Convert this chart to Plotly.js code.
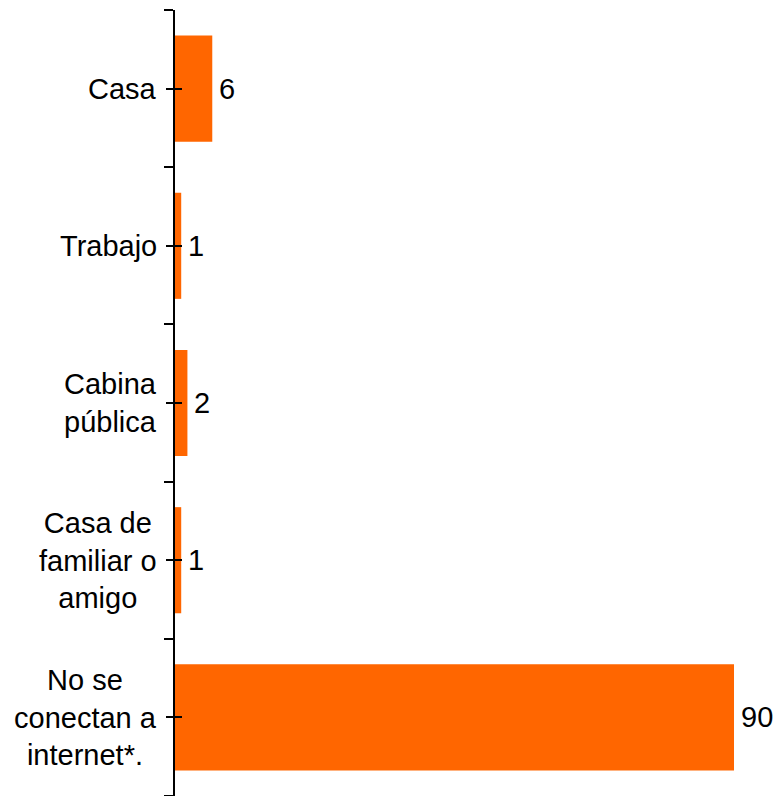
<!DOCTYPE html>
<html>
<head>
<meta charset="utf-8">
<script src="https://cdn.plot.ly/plotly-3.0.1.min.js"></script>
<style>html,body{margin:0;padding:0;background:#fff;}#chart{width:775px;height:796px;}</style>
</head>
<body>
<div id="chart"></div>
<script>
const categories = ["Casa", "Trabajo", "Cabina<br>pública", "Casa de<br>familiar o<br>amigo", "No se<br>conectan a<br>internet*."];
const values = [6, 1, 2, 1, 90];

const positions = categories.map((c, i) => i);
const fontFam = "Liberation Sans, Arial, sans-serif";
const fsize = 29;

const trace = {
  type: "bar",
  orientation: "h",
  x: values,
  y: positions,
  width: 0.675,
  marker: {color: "#FF6600"},
  hoverinfo: "none"
};

const catAnn = categories.map((c, i) => ({
  xref: "paper", yref: "y",
  x: 0, y: i, xshift: -16,
  xanchor: "right", yanchor: "middle",
  align: "center",
  text: c, showarrow: false,
  font: {family: fontFam, size: fsize, color: "#000"}
}));

const valAnn = values.map((v, i) => ({
  xref: "x", yref: "y",
  x: v, y: i, xshift: 5,
  xanchor: "left", yanchor: "middle",
  text: String(v), showarrow: false,
  font: {family: fontFam, size: fsize, color: "#000"}
}));

const layout = {
  width: 775, height: 796,
  margin: {l: 175, r: 0, t: 10, b: 0, pad: 0},
  paper_bgcolor: "#fff", plot_bgcolor: "#fff",
  showlegend: false,
  xaxis: {range: [0, 96.6], showgrid: false, zeroline: false, showline: false, showticklabels: false, ticks: ""},
  yaxis: {
    range: [4.5, -0.5], showgrid: false, zeroline: false,
    showline: true, linecolor: "#000", linewidth: 2,
    tickmode: "array", tickvals: positions, ticks: "outside", ticklen: 7, tickwidth: 2, tickcolor: "#000",
    showticklabels: false,
    minor: {tickmode: "linear", tick0: 0.5, dtick: 1, ticks: "outside", ticklen: 9, tickwidth: 2, tickcolor: "#000", showgrid: false}
  },
  yaxis2: {
    overlaying: "y", range: [4.5, -0.5], showgrid: false, zeroline: false, showline: false,
    tickmode: "array", tickvals: positions, ticks: "inside", ticklen: 7, tickwidth: 2, tickcolor: "#000",
    showticklabels: false, side: "left"
  },
  annotations: catAnn.concat(valAnn),
  font: {family: fontFam, color: "#000"}
};

const dummy = {type: "scatter", x: [0], y: [0], yaxis: "y2", mode: "markers", marker: {opacity: 0}, hoverinfo: "none"};

Plotly.newPlot("chart", [trace, dummy], layout, {displayModeBar: false, staticPlot: true});
</script>
</body>
</html>
